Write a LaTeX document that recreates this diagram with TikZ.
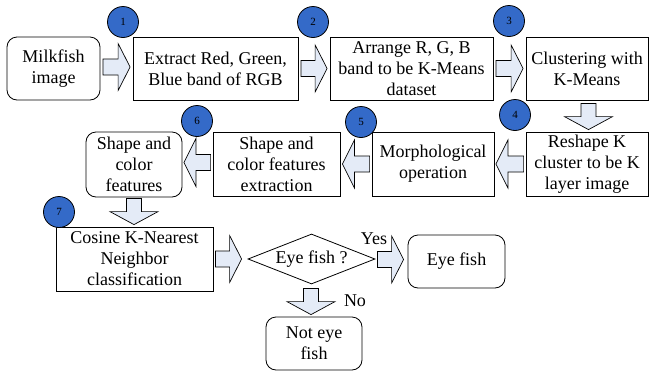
\documentclass[tikz,border=0pt]{standalone}
\usepackage{fontspec}
\setmainfont{Liberation Serif}
\usetikzlibrary{shapes.geometric,calc}
\definecolor{arrfill}{RGB}{228,235,247}
\definecolor{numblue}{RGB}{52,106,200}
\tikzset{
  box/.style={draw, line width=0.8pt, align=center, inner sep=0pt, font=\fontsize{18}{21}\selectfont},
  rbox/.style={box, rounded corners=10pt},
  barr/.style={draw, line width=0.7pt, fill=arrfill, line join=miter},
  num/.style={circle, draw, line width=0.8pt, fill=numblue, minimum size=31pt, inner sep=0pt, font=\fontsize{11}{12}\selectfont},
  lbl/.style={font=\fontsize{18}{21}\selectfont, inner sep=0pt}
}
% right block arrow: tail point, tip point (y taken from tail)
\newcommand\arrR[2]{\draw[barr] let \p1=(#1), \p2=(#2) in
  (\x1,\y1+8) -- (\x2-12,\y1+8) -- (\x2-12,\y1+23.5) -- (\x2,\y1) -- (\x2-12,\y1-23.5) -- (\x2-12,\y1-8) -- (\x1,\y1-8) -- cycle;}
\newcommand\arrL[2]{\draw[barr] let \p1=(#1), \p2=(#2) in
  (\x1,\y1+8) -- (\x2+12,\y1+8) -- (\x2+12,\y1+24) -- (\x2,\y1) -- (\x2+12,\y1-24) -- (\x2+12,\y1-8) -- (\x1,\y1-8) -- cycle;}
\newcommand\arrD[2]{\draw[barr] let \p1=(#1), \p2=(#2) in
  (\x1-7.5,\y1) -- (\x1-7.5,\y2+13) -- (\x1-24,\y2+13) -- (\x1,\y2) -- (\x1+24,\y2+13) -- (\x1+7.5,\y2+13) -- (\x1+7.5,\y1) -- cycle;}
\begin{document}
\begin{tikzpicture}[x=1pt,y=-1pt]
\useasboundingbox (0,0) rectangle (649,373);
% boxes
\node[rbox, minimum width=93pt, minimum height=63pt] (milk) at (53.5,68.5) {Milkfish\\image};
\node[box, minimum width=165pt, minimum height=63pt] (extr) at (215.5,68.5) {Extract Red, Green,\\Blue band of RGB};
\node[box, minimum width=163pt, minimum height=63pt] (arr) at (411.5,68.5) {Arrange R, G, B\\band to be K-Means\\dataset};
\node[box, minimum width=122pt, minimum height=63pt] (clus) at (587,68.5) {Clustering with\\K-Means};
\node[box, minimum width=122pt, minimum height=64pt] (resh) at (587,164) {Reshape K\\cluster to be K\\layer image};
\node[box, minimum width=122pt, minimum height=64pt] (morph) at (433,164) {Morphological\\operation};
\node[box, minimum width=127pt, minimum height=64pt] (sext) at (276.5,164) {Shape and\\color features\\extraction};
\node[rbox, minimum width=96pt, minimum height=65pt] (sfeat) at (134,164.5) {Shape and\\color\\features};
\node[box, minimum width=157pt, minimum height=64pt] (cos) at (134.5,259) {Cosine K-Nearest\\Neighbor\\classification};
\node[diamond, draw, line width=0.8pt, minimum width=127pt, minimum height=50pt, inner sep=0pt] (dia) at (311.5,259) {};
\node[lbl] (diat) at (dia.center) {Eye fish ?};
\node[rbox, minimum width=97pt, minimum height=53pt] (eye) at (456.5,261.5) {Eye fish};
\node[rbox, minimum width=96pt, minimum height=53pt] (neye) at (314,343.5) {Not eye\\fish};
% arrows
\arrR{$(milk.east)+(2.5,-1.5)$}{$(extr.west)+(-2.5,0)$}
\arrR{$(extr.east)+(2.5,0)$}{$(arr.west)+(-2.5,0)$}
\arrR{$(arr.east)+(2.5,0)$}{$(clus.west)+(-2.5,0)$}
\arrD{$(clus.south)+(1.5,3)$}{$(resh.north)+(0,-2)$}
\arrL{$(resh.west)+(-2,0)$}{$(morph.east)+(1.5,0)$}
\arrL{$(morph.west)+(-2,0)$}{$(sext.east)+(2,0)$}
\arrL{$(sext.west)+(-2,-1.5)$}{$(sfeat.east)+(1.5,0)$}
\arrD{$(sfeat.south)+(0,1)$}{$(cos.north)+(0,-2)$}
\arrR{$(cos.east)+(2,0)$}{$(dia.west)+(-6,0)$}
\arrR{$(dia.east)+(2,0.5)$}{$(eye.west)+(-4,0)$}
\arrD{$(dia.south)+(-0.5,4)$}{$(neye.north)+(0,-2)$}
% labels
\node[lbl] (yes) at (374,239) {Yes};
\node[lbl] (no) at (355,301) {No};
% numbers
\node[num] (n1) at (123,22) {1};
\node[num] (n2) at (313,22) {2};
\node[num] (n3) at (509,21) {3};
\node[num] (n4) at (515,115) {4};
\node[num] (n5) at (361,122) {5};
\node[num] (n6) at (197,121) {6};
\node[num] (n7) at (59,212) {7};
\end{tikzpicture}
\end{document}
